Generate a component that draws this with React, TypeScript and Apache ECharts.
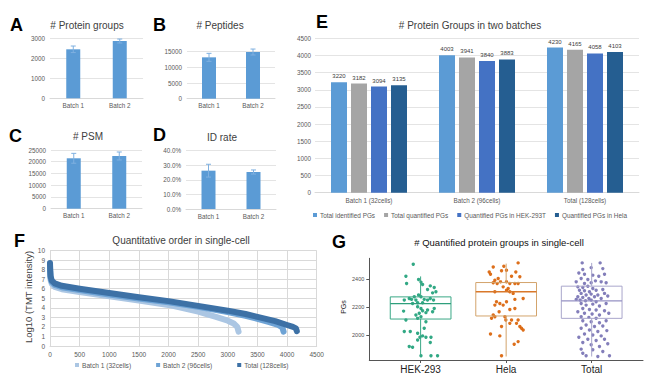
import React, { useEffect, useRef } from "react";
import * as echarts from "echarts";

// ---------- Panels A-D ----------
const batchCategories = ["Batch 1", "Batch 2"];
const proteinGroupMeans = [2466, 2884];
const proteinGroupSds = [165, 100];
const peptideMeans = [13200, 14900];
const peptideSds = [1280, 950];
const psmMeans = [21470, 22450];
const psmSds = [2100, 1700];
const idRateMeans = [0.263, 0.254];
const idRateSds = [0.044, 0.014];

// ---------- Panel E ----------
const eCategories = ["Batch 1 (32cells)", "Batch 2 (96cells)", "Total (128cells)"];
const eSeriesNames = [
  "Total identified PGs",
  "Total quantified PGs",
  "Quantified PGs in HEK-293T",
  "Quantified PGs in Hela",
];
const totalIdentifiedPGs = [3220, 4003, 4230];
const totalQuantifiedPGs = [3182, 3941, 4165];
const quantHekPGs = [3094, 3840, 4058];
const quantHelaPGs = [3135, 3883, 4103];

// ---------- Panel F ----------
const fSeriesNames = ["Batch 1 (32cells)", "Batch 2 (96cells)", "Total (128cells)"];
const fBatch1 = [
  [0, 8.3], [3, 7.5], [10, 6.9], [30, 6.5], [80, 6.2], [200, 5.95], [500, 5.65],
  [1000, 5.2], [1500, 4.75], [2000, 4.3], [2500, 3.6], [2800, 3.05], [3000, 2.65],
  [3100, 2.35], [3160, 2.0], [3182, 1.5],
];
const fBatch2 = [
  [0, 8.5], [3, 7.8], [10, 7.1], [30, 6.7], [80, 6.4], [200, 6.15], [500, 5.85],
  [1000, 5.4], [1500, 4.97], [2000, 4.57], [2500, 4.1], [3000, 3.55], [3300, 3.15],
  [3500, 2.85], [3700, 2.5], [3850, 2.2], [3920, 1.95], [3941, 1.5],
];
const fTotal = [
  [0, 8.7], [3, 8.0], [10, 7.3], [30, 6.85], [80, 6.55], [200, 6.3], [500, 6.0],
  [1000, 5.55], [1500, 5.1], [2000, 4.7], [2500, 4.2], [3000, 3.7], [3300, 3.35],
  [3500, 3.05], [3800, 2.6], [4000, 2.2], [4100, 2.0], [4150, 1.85], [4165, 1.55],
];

// ---------- Panel G ----------
const gCategories = ["HEK-293", "Hela", "Total"];
const gBoxMin = [1850, 1845, 1845];
const gBoxQ1 = [2114, 2136, 2119];
const gBoxMedian = [2224, 2310, 2245];
const gBoxQ3 = [2273, 2376, 2350];
const gBoxMax = [2420, 2512, 2517];
// [jitter offset from category centre, PGs]
const hekPoints = [
  [-0.086, 2507], [-0.172, 2421], [-0.024, 2398], [-0.164, 2369], [0.004, 2379], [0.023, 2362],
  [0.113, 2352], [0.159, 2340], [0.081, 2326], [0.179, 2310], [0.14, 2302], [-0.191, 2250],
  [-0.133, 2262], [-0.106, 2255], [-0.074, 2274], [-0.055, 2250], [-0.024, 2286], [0.004, 2274],
  [0.042, 2255], [0.081, 2250], [0.113, 2262], [0.151, 2250], [-0.035, 2231], [0.023, 2231],
  [-0.094, 2226], [-0.199, 2171], [-0.035, 2202], [0.004, 2190], [0.023, 2174], [0.081, 2179],
  [0.062, 2160], [0.14, 2167], [0.159, 2190], [-0.016, 2155], [-0.055, 2143], [0.004, 2131],
  [-0.035, 2119], [-0.172, 2107], [0.062, 2095], [-0.191, 2024], [-0.121, 2024], [-0.035, 2012],
  [0.042, 2048], [-0.008, 1983], [-0.035, 1964], [0.023, 1993], [0.062, 1983], [0.121, 1983],
  [-0.133, 1917], [-0.094, 1912], [0.113, 1945], [0.004, 1850], [0.121, 1850], [0.198, 1850],
];
const helaPoints = [
  [0.14, 2517], [-0.027, 2493], [-0.151, 2488], [-0.054, 2460], [0.004, 2464], [-0.198, 2452],
  [-0.183, 2436], [0.113, 2452], [0.063, 2421], [0.16, 2417], [-0.132, 2393], [-0.093, 2405],
  [-0.066, 2381], [-0.151, 2374], [-0.105, 2369], [0.004, 2381], [0.043, 2369], [0.102, 2369],
  [0.14, 2369], [0.024, 2333], [0.004, 2321], [0.043, 2310], [-0.035, 2345], [-0.132, 2310],
  [0.082, 2298], [0.199, 2262], [0.102, 2255], [-0.113, 2238], [-0.074, 2226], [-0.035, 2214],
  [0.004, 2238], [-0.132, 2214], [0.043, 2183], [0.102, 2190], [-0.082, 2167], [-0.151, 2143],
  [-0.171, 2119], [-0.132, 2131], [-0.015, 2131], [-0.004, 2107], [0.063, 2107], [0.14, 2107],
  [0.043, 2083], [-0.054, 2060], [0.121, 2083], [0.16, 2060], [0.179, 2048], [0.199, 2036],
  [-0.074, 1993], [-0.183, 2007], [0.14, 1952], [0.094, 1933], [-0.054, 1850],
];
const totalPoints = [
  [-0.111, 2517], [0.099, 2517], [-0.006, 2483], [-0.104, 2469], [0.13, 2476], [-0.15, 2445],
  [-0.084, 2436], [0.013, 2429], [0.083, 2421], [0.15, 2436], [-0.123, 2405], [-0.045, 2398],
  [0.044, 2388], [-0.181, 2381], [-0.084, 2369], [-0.006, 2374], [0.111, 2381], [0.169, 2374],
  [-0.162, 2345], [-0.104, 2340], [-0.045, 2350], [0.013, 2333], [-0.143, 2321], [-0.084, 2317],
  [-0.026, 2310], [0.052, 2321], [0.13, 2326], [-0.123, 2298], [-0.065, 2286], [-0.006, 2293],
  [0.072, 2286], [0.15, 2298], [-0.162, 2274], [-0.104, 2269], [-0.033, 2262], [0.033, 2274],
  [0.111, 2262], [0.188, 2279], [-0.135, 2250], [-0.072, 2245], [-0.006, 2250], [0.052, 2238],
  [-0.181, 2255], [-0.123, 2226], [-0.065, 2214], [0.013, 2221], [0.091, 2207], [0.169, 2226],
  [-0.104, 2190], [-0.026, 2183], [0.052, 2179], [0.15, 2174], [-0.162, 2167], [-0.084, 2155],
  [0.005, 2150], [0.091, 2143], [0.2, 2155], [-0.123, 2131], [-0.033, 2126], [0.052, 2119],
  [-0.104, 2102], [-0.006, 2095], [0.091, 2088], [0.169, 2102], [-0.065, 2071], [0.033, 2060],
  [0.13, 2064], [-0.123, 2048], [-0.026, 2036], [0.072, 2024], [0.177, 2031], [-0.084, 2007],
  [0.013, 2000], [0.111, 1993], [-0.15, 1983], [-0.045, 1969], [0.052, 1960], [0.15, 1969],
  [-0.104, 1945], [-0.006, 1929], [0.091, 1917], [0.188, 1936], [-0.123, 1898], [0.013, 1893],
  [0.13, 1881], [-0.065, 1850], [0.072, 1845], [0.208, 1850], [-0.104, 1869],
];

const FONT = "'Liberation Sans', Arial, sans-serif";
const LABEL_GREY = "#595959";
const GRID_GREY = "#d9d9d9";
const BAR_BLUE = "#5b9bd5";
const E_COLORS = ["#5b9bd5", "#a5a5a5", "#4472c4", "#255e91"];
const F_COLORS = ["#abc6e3", "#6ea3d5", "#3d71a6"];
const G_COLORS = ["#1b9e77", "#d95f02", "#7570b3"];
const G_BOX_COLORS = ["#3aa886", "#d3a46c", "#a9a6cb"];
const G_MEDIAN_COLORS = ["#2e9f7c", "#d9782a", "#9591c3"];
const G_BOX_WIDTH = 0.71;

const plain = (v: number) => String(Math.round(v));

function letter(text: string, x: number, y: number) {
  return {
    type: "text",
    x,
    y,
    style: {
      text,
      fontSize: 18,
      fontWeight: "bold",
      fontFamily: FONT,
      fill: "#000",
      textAlign: "left",
      textVerticalAlign: "middle",
      align: "left",
      verticalAlign: "middle",
    },
  };
}

function title(text: string, x: number, y: number, color = "#404040", size = 10, rotation = 0) {
  return {
    type: "text",
    x,
    y,
    rotation,
    style: {
      text,
      fontSize: size,
      fontFamily: FONT,
      fill: color,
      textAlign: "center",
      textVerticalAlign: "middle",
      align: "center",
      verticalAlign: "middle",
    },
  };
}

function errorSeries(idx: number, means: number[], sds: number[]) {
  return {
    type: "custom",
    xAxisIndex: idx,
    yAxisIndex: idx,
    clip: false,
    z: 5,
    data: batchCategories.map((c, k) => [c, means[k] - sds[k], means[k] + sds[k]]),
    renderItem: (_p: any, api: any) => {
      const x = api.value(0);
      const lo = api.coord([x, api.value(1)]);
      const hi = api.coord([x, api.value(2)]);
      const w = 2.5;
      const style = { stroke: "#7fb0e0", lineWidth: 1 };
      return {
        type: "group",
        children: [
          { type: "line", shape: { x1: hi[0], y1: lo[1], x2: hi[0], y2: hi[1] }, style },
          { type: "line", shape: { x1: hi[0] - w, y1: hi[1], x2: hi[0] + w, y2: hi[1] }, style },
          { type: "line", shape: { x1: lo[0] - w, y1: lo[1], x2: lo[0] + w, y2: lo[1] }, style },
        ],
      };
    },
  };
}

function smallX(idx: number) {
  return {
    type: "category",
    gridIndex: idx,
    data: batchCategories,
    axisTick: { show: false },
    axisLine: { lineStyle: { color: GRID_GREY } },
    axisLabel: { fontSize: 6.3, color: LABEL_GREY, margin: 4, fontFamily: FONT },
  };
}

function smallY(idx: number, max: number, interval: number, formatter: (v: number) => string = plain) {
  return {
    type: "value",
    gridIndex: idx,
    min: 0,
    max,
    interval,
    axisLine: { show: false },
    axisTick: { show: false },
    splitLine: { lineStyle: { color: "#e4e4e4" } },
    axisLabel: { fontSize: 6.3, color: LABEL_GREY, margin: 5, fontFamily: FONT, formatter },
  };
}

export default function App() {
  const ref = useRef<HTMLDivElement>(null);

  useEffect(() => {
    if (!ref.current) return;
    const chart = echarts.init(ref.current, undefined, { renderer: "svg" });

    const pct = (v: number) => (v * 100).toFixed(1) + "%";

    const option: any = {
      animation: false,
      backgroundColor: "#ffffff",
      textStyle: { fontFamily: FONT },
      grid: [
        { left: 50, top: 38.7, width: 93, height: 59.6, outerBoundsMode: "none" },
        { left: 187, top: 51.7, width: 88, height: 47, outerBoundsMode: "none" },
        { left: 51, top: 150, width: 91, height: 58.7, outerBoundsMode: "none" },
        { left: 186, top: 150.7, width: 90, height: 58.3, outerBoundsMode: "none" },
        { left: 315, top: 38.3, width: 324, height: 154.4, outerBoundsMode: "none" },
        { left: 50, top: 250.5, width: 266.7, height: 95.5, outerBoundsMode: "none" },
        { left: 369.3, top: 258.3, width: 273.7, height: 101.7, outerBoundsMode: "none" },
      ],
      xAxis: [
        smallX(0),
        smallX(1),
        smallX(2),
        smallX(3),
        {
          type: "category",
          gridIndex: 4,
          data: eCategories,
          axisTick: { show: false },
          axisLine: { lineStyle: { color: GRID_GREY } },
          axisLabel: { fontSize: 6.3, color: LABEL_GREY, margin: 5, fontFamily: FONT },
        },
        {
          type: "value",
          gridIndex: 5,
          min: 0,
          max: 4500,
          interval: 500,
          axisTick: { show: false },
          axisLine: { lineStyle: { color: GRID_GREY } },
          splitLine: { show: true, lineStyle: { color: GRID_GREY } },
          axisLabel: { fontSize: 6.5, color: LABEL_GREY, margin: 5, fontFamily: FONT, formatter: plain },
        },
        {
          type: "value",
          gridIndex: 6,
          min: 0.4,
          max: 3.6,
          splitLine: { show: false },
          axisLine: { lineStyle: { color: "#555", width: 1 } },
          axisTick: { show: true, length: 3, customValues: [1, 2, 3], lineStyle: { color: "#555" } },
          axisLabel: {
            customValues: [1, 2, 3],
            fontSize: 10,
            color: "#222",
            margin: 4,
            fontFamily: FONT,
            formatter: (v: number) => gCategories[Math.round(v) - 1] ?? "",
          },
        },
      ],
      yAxis: [
        smallY(0, 3000, 1000),
        smallY(1, 15000, 5000),
        smallY(2, 25000, 5000),
        smallY(3, 0.4, 0.1, pct),
        {
          type: "value",
          gridIndex: 4,
          min: 0,
          max: 4500,
          interval: 500,
          axisLine: { show: false },
          axisTick: { show: false },
          splitLine: { lineStyle: { color: "#e4e4e4" } },
          axisLabel: { fontSize: 6.3, color: LABEL_GREY, margin: 4, fontFamily: FONT, formatter: plain },
        },
        {
          type: "value",
          gridIndex: 5,
          min: 0,
          max: 10,
          interval: 1,
          axisLine: { show: true, lineStyle: { color: GRID_GREY } },
          axisTick: { show: false },
          splitLine: { lineStyle: { color: GRID_GREY } },
          axisLabel: { fontSize: 6.5, color: LABEL_GREY, margin: 5, fontFamily: FONT, formatter: plain },
        },
        {
          type: "value",
          gridIndex: 6,
          min: 1820,
          max: 2550,
          splitLine: { show: false },
          axisLine: { show: true, lineStyle: { color: "#555", width: 1 } },
          axisTick: { show: true, length: 3, customValues: [2000, 2200, 2400], lineStyle: { color: "#555" } },
          axisLabel: {
            customValues: [2000, 2200, 2400],
            fontSize: 5.5,
            color: "#4d4d4d",
            margin: 5,
            fontFamily: FONT,
            formatter: plain,
          },
        },
      ],
      legend: [
        {
          data: eSeriesNames,
          left: 313,
          top: 212,
          padding: 0,
          itemWidth: 4,
          itemHeight: 4,
          itemGap: 9,
          icon: "rect",
          textStyle: { fontSize: 6.4, color: LABEL_GREY, fontFamily: FONT, padding: [0, 0, 0, -2] },
        },
        {
          data: fSeriesNames,
          left: 75,
          top: 361.5,
          padding: 0,
          itemWidth: 4,
          itemHeight: 4,
          itemGap: 25,
          icon: "rect",
          textStyle: { fontSize: 6.6, color: LABEL_GREY, fontFamily: FONT, padding: [0, 0, 0, -2] },
        },
      ],
      series: [
        // A-D bars
        { type: "bar", xAxisIndex: 0, yAxisIndex: 0, data: proteinGroupMeans, barWidth: 14, itemStyle: { color: BAR_BLUE } },
        errorSeries(0, proteinGroupMeans, proteinGroupSds),
        { type: "bar", xAxisIndex: 1, yAxisIndex: 1, data: peptideMeans, barWidth: 14, itemStyle: { color: BAR_BLUE } },
        errorSeries(1, peptideMeans, peptideSds),
        { type: "bar", xAxisIndex: 2, yAxisIndex: 2, data: psmMeans, barWidth: 14, itemStyle: { color: BAR_BLUE } },
        errorSeries(2, psmMeans, psmSds),
        { type: "bar", xAxisIndex: 3, yAxisIndex: 3, data: idRateMeans, barWidth: 14, itemStyle: { color: BAR_BLUE } },
        errorSeries(3, idRateMeans, idRateSds),
        // E bars
        ...[totalIdentifiedPGs, totalQuantifiedPGs, quantHekPGs, quantHelaPGs].map((d, k) => ({
          type: "bar",
          name: eSeriesNames[k],
          xAxisIndex: 4,
          yAxisIndex: 4,
          data: d,
          barWidth: 16,
          barGap: "25%",
          itemStyle: { color: E_COLORS[k] },
          label: { show: true, position: "top", distance: 3, fontSize: 6, color: "#404040", fontFamily: FONT },
        })),
        // F lines
        ...[fBatch1, fBatch2, fTotal].map((d, k) => ({
          type: "line",
          name: fSeriesNames[k],
          xAxisIndex: 5,
          yAxisIndex: 5,
          data: d,
          showSymbol: false,
          symbol: "rect",
          itemStyle: { color: F_COLORS[k] },
          lineStyle: { color: F_COLORS[k], width: 6, cap: "round", join: "round" },
          z: 3 + k,
        })),
        // G jitter points
        ...[hekPoints, helaPoints, totalPoints].map((pts, k) => ({
          type: "scatter",
          name: gCategories[k] + " cells",
          xAxisIndex: 6,
          yAxisIndex: 6,
          data: pts.map((p) => [k + 1 + p[0], p[1]]),
          symbolSize: 3.4,
          itemStyle: { color: G_COLORS[k], opacity: 0.9 },
          z: 3,
        })),
        // G boxes
        {
          type: "custom",
          xAxisIndex: 6,
          yAxisIndex: 6,
          z: 4,
          data: gCategories.map((_c, k) => [k + 1, gBoxMin[k], gBoxQ1[k], gBoxMedian[k], gBoxQ3[k], gBoxMax[k]]),
          renderItem: (params: any, api: any) => {
            const i = params.dataIndex;
            const x = api.value(0);
            const pMin = api.coord([x, api.value(1)]);
            const pQ1 = api.coord([x, api.value(2)]);
            const pMed = api.coord([x, api.value(3)]);
            const pQ3 = api.coord([x, api.value(4)]);
            const pMax = api.coord([x, api.value(5)]);
            const half = api.size([G_BOX_WIDTH, 0])[0] / 2;
            const stroke = G_BOX_COLORS[i];
            const style = { stroke, lineWidth: 1, fill: "none" };
            return {
              type: "group",
              children: [
                { type: "line", shape: { x1: pMax[0], y1: pMax[1], x2: pQ3[0], y2: pQ3[1] }, style },
                { type: "line", shape: { x1: pQ1[0], y1: pQ1[1], x2: pMin[0], y2: pMin[1] }, style },
                {
                  type: "rect",
                  shape: { x: pQ3[0] - half, y: pQ3[1], width: half * 2, height: pQ1[1] - pQ3[1] },
                  style: { stroke, lineWidth: 1, fill: "rgba(0,0,0,0)" },
                },
                {
                  type: "line",
                  shape: { x1: pMed[0] - half, y1: pMed[1], x2: pMed[0] + half, y2: pMed[1] },
                  style: { stroke: G_MEDIAN_COLORS[i], lineWidth: 1.3 },
                },
              ],
            };
          },
        },
      ],
      graphic: [
        letter("A", 10, 25),
        letter("B", 153, 25),
        letter("C", 9, 136),
        letter("D", 153, 135),
        letter("E", 316, 22),
        letter("F", 14, 241),
        letter("G", 332, 242),
        title("# Protein groups", 87, 25),
        title("# Peptides", 220, 25),
        title("# PSM", 88, 136),
        title("ID rate", 222, 137),
        title("# Protein Groups in two batches", 470, 25),
        title("Quantitative order in single-cell", 181, 240),
        title("# Quantified protein groups in single-cell", 499, 242, "#111", 9.5),
        title("Log10 (TMT intensity)", 28, 297, "#404040", 9.5, Math.PI / 2),
        title("PGs", 343, 307, "#222", 7, Math.PI / 2),
      ],
    };

    chart.setOption(option);
    return () => chart.dispose();
  }, []);

  return (
    <div
      ref={ref}
      style={{ position: "fixed", left: 0, top: 0, width: 650, height: 388, background: "#fff" }}
    />
  );
}
